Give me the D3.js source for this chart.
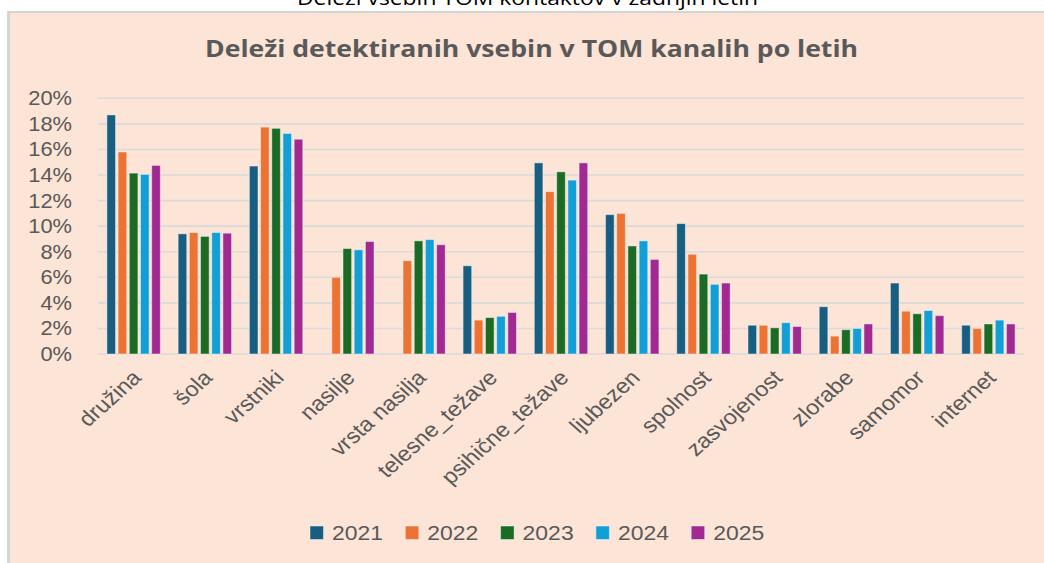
<!DOCTYPE html>
<html>
<head>
<meta charset="utf-8">
<script src="https://cdn.jsdelivr.net/npm/d3@7"></script>
<style>
  html, body { margin: 0; padding: 0; background: #fff; }
  svg { display: block; }
</style>
</head>
<body>
<div id="chart"></div>
<script>
// Data
const categories = [
  'družina', 'šola', 'vrstniki', 'nasilje', 'vrsta nasilja', 'telesne_težave',
  'psihične_težave', 'ljubezen', 'spolnost', 'zasvojenost', 'zlorabe', 'samomor', 'internet',
];
const years = ['2021', '2022', '2023', '2024', '2025'];
const values2021 = [18.7, 9.4, 14.7, 0, 0, 6.9, 14.95, 10.9, 10.2, 2.25, 3.7, 5.55, 2.25];
const values2022 = [15.8, 9.5, 17.75, 6.0, 7.3, 2.65, 12.7, 11.0, 7.8, 2.25, 1.4, 3.35, 2.0];
const values2023 = [14.15, 9.2, 17.65, 8.25, 8.85, 2.85, 14.25, 8.45, 6.25, 2.05, 1.9, 3.15, 2.35];
const values2024 = [14.05, 9.5, 17.25, 8.15, 8.95, 2.95, 13.6, 8.85, 5.45, 2.45, 2.0, 3.4, 2.65];
const values2025 = [14.75, 9.45, 16.8, 8.8, 8.55, 3.25, 14.95, 7.4, 5.55, 2.15, 2.35, 3.0, 2.35];
const series = [values2021, values2022, values2023, values2024, values2025];
const yTicks = [0, 2, 4, 6, 8, 10, 12, 14, 16, 18, 20];

const colors = ['#185e80', '#ec7333', '#1b6b24', '#129fd6', '#a02a91'];

// Dimensions
const width = 1044;
const height = 563;
const plot = { left: 98, right: 1024, top: 98.3, bottom: 354 };
const stretch = 1.12;
const textColor = '#595959';

const svg = d3
  .select('#chart')
  .append('svg')
  .attr('width', width)
  .attr('height', height)
  .style('font-family', '"Liberation Sans", Arial, sans-serif');

// Page background, frame and the heading above it (cut by the frame, as in the source)
svg.append('rect').attr('width', width).attr('height', height).attr('fill', '#fff');
svg
  .append('text')
  .attr('x', 297)
  .attr('y', 5)
  .attr('textLength', 461)
  .attr('lengthAdjust', 'spacingAndGlyphs')
  .style('font-family', '"Open Sans", sans-serif')
  .style('font-size', '20px')
  .attr('fill', '#000')
  .text('Deleži vsebin TOM kontaktov v zadnjih letih');
svg.append('rect').attr('x', 7).attr('y', 11).attr('width', width).attr('height', height).attr('fill', '#d4d4d4');
svg.append('rect').attr('x', 10).attr('y', 13).attr('width', width).attr('height', height).attr('fill', '#fce4d6');

// Title
svg
  .append('text')
  .attr('x', 205)
  .attr('y', 57)
  .attr('textLength', 653)
  .attr('lengthAdjust', 'spacingAndGlyphs')
  .style('font-family', '"Open Sans", sans-serif')
  .style('font-weight', 700)
  .style('font-size', '23px')
  .attr('fill', textColor)
  .text('Deleži detektiranih vsebin v TOM kanalih po letih');

// Scales
const x = d3
  .scaleBand()
  .domain(categories)
  .range([plot.left, plot.right])
  .paddingInner(0.25)
  .paddingOuter(0.125);

const xInner = d3
  .scaleBand()
  .domain(years)
  .range([0, x.bandwidth()])
  .paddingInner(0.23);

const y = d3.scaleLinear().domain([0, 20]).range([plot.bottom, plot.top]);

// Gridlines
svg
  .append('g')
  .selectAll('line')
  .data(yTicks)
  .join('line')
  .attr('x1', plot.left)
  .attr('x2', plot.right)
  .attr('y1', (d) => y(d))
  .attr('y2', (d) => y(d))
  .attr('stroke', '#dadada')
  .attr('stroke-width', 1.6);

// Y axis labels
svg
  .append('g')
  .selectAll('text')
  .data(yTicks)
  .join('text')
  .attr('transform', (d) => `translate(72,${y(d)}) scale(${stretch},1)`)
  .attr('text-anchor', 'end')
  .attr('dy', '0.36em')
  .style('font-size', '19.5px')
  .attr('fill', textColor)
  .text((d) => d + '%');

// Bars
const groups = svg
  .append('g')
  .selectAll('g')
  .data(categories)
  .join('g')
  .attr('transform', (d) => `translate(${x(d)},0)`);

groups
  .selectAll('rect')
  .data((d, i) => years.map((yr, j) => ({ year: yr, value: series[j][i], color: colors[j] })))
  .join('rect')
  .filter((d) => d.value > 0)
  .attr('x', (d) => xInner(d.year))
  .attr('y', (d) => y(d.value))
  .attr('width', xInner.bandwidth())
  .attr('height', (d) => y(0) - y(d.value))
  .attr('fill', (d) => d.color)
  .attr('stroke', 'rgba(255,255,255,0.45)')
  .attr('stroke-width', 1);

// X axis labels (rotated)
svg
  .append('g')
  .selectAll('text')
  .data(categories)
  .join('text')
  .attr(
    'transform',
    (d) => `translate(${x(d) + x.bandwidth() / 2 + 9},${plot.bottom + 25}) scale(${stretch},1) rotate(-45)`
  )
  .attr('text-anchor', 'end')
  .style('font-size', '21px')
  .attr('fill', textColor)
  .text((d) => d);

// Legend
const legend = svg
  .append('g')
  .selectAll('g')
  .data(years)
  .join('g')
  .attr('transform', (d, i) => `translate(${310 + i * 95.3},526)`);

legend
  .append('rect')
  .attr('width', 13.5)
  .attr('height', 13.5)
  .attr('fill', (d, i) => colors[i])
  .attr('stroke', 'rgba(255,255,255,0.45)');

legend
  .append('text')
  .attr('transform', `translate(22,14) scale(${stretch},1)`)
  .style('font-size', '20.5px')
  .attr('fill', textColor)
  .text((d) => d);
</script>
</body>
</html>
